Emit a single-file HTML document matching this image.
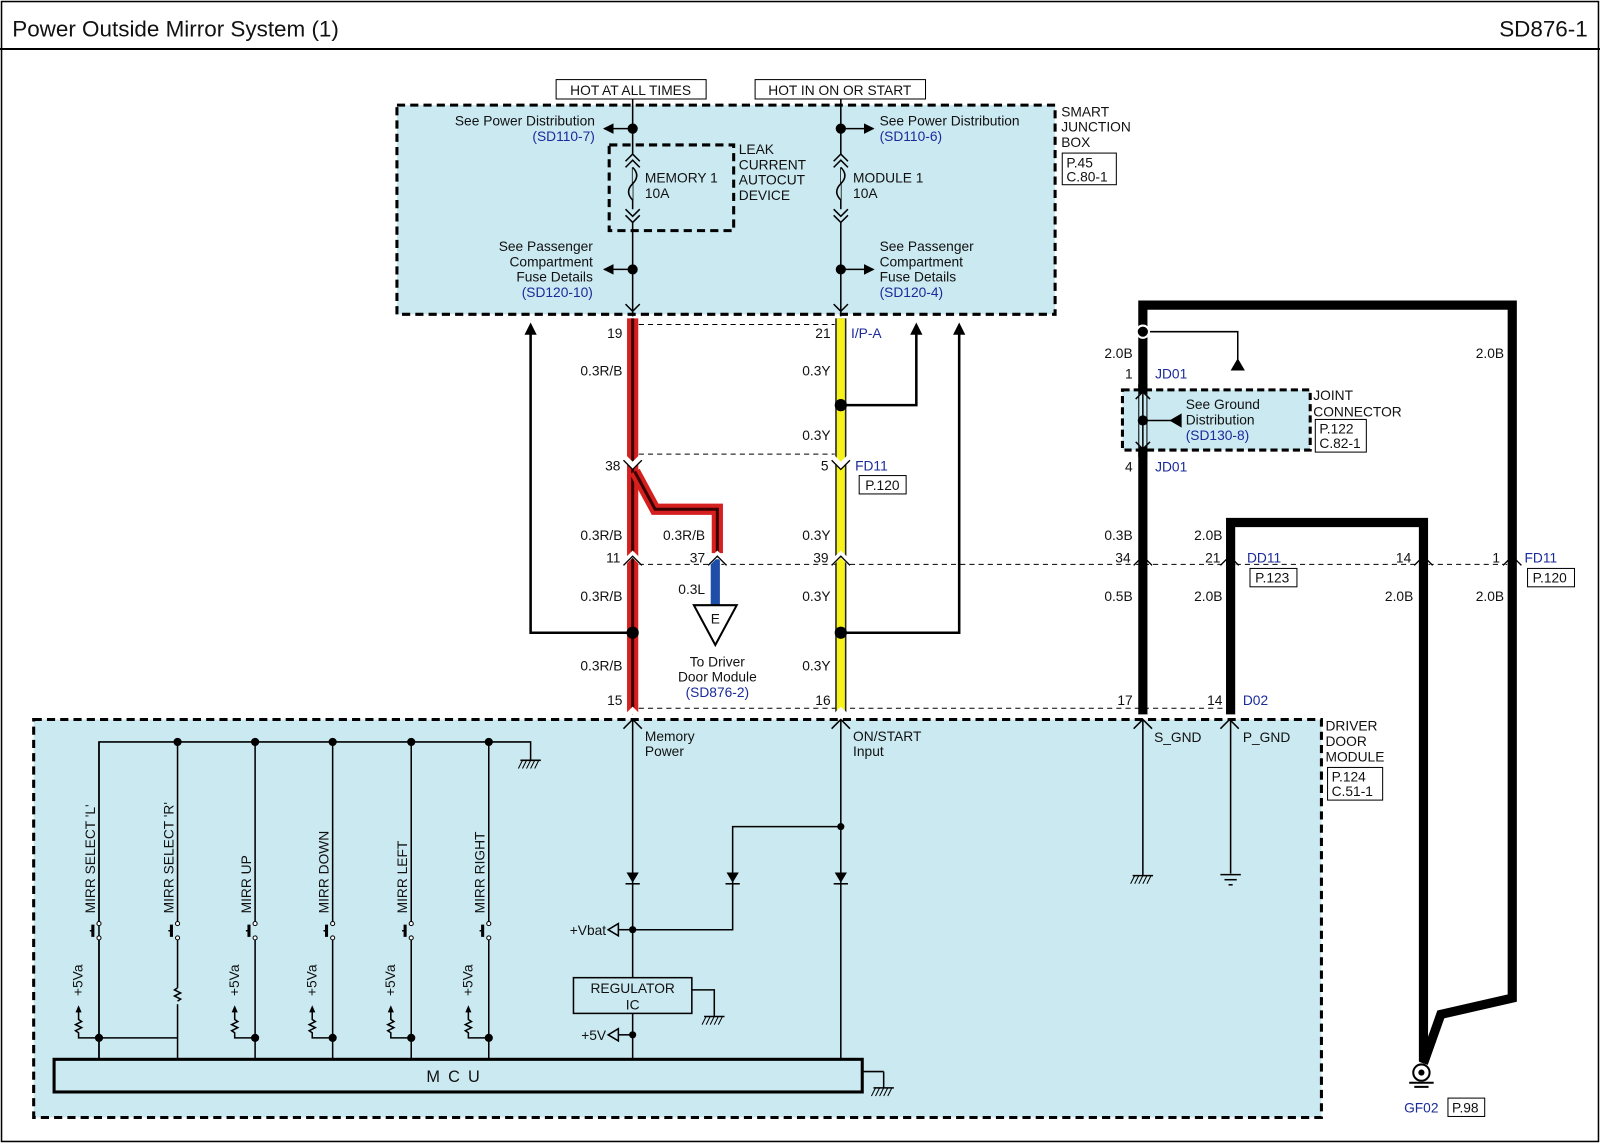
<!DOCTYPE html>
<html><head><meta charset="utf-8"><style>
html,body{margin:0;padding:0;background:#fff}
svg{display:block}
text{font-family:"Liberation Sans",sans-serif;font-size:13.5px;fill:#111}
.b{fill:#1a2a9a}
</style></head><body>
<svg width="1600" height="1143" viewBox="0 0 1568 1120" preserveAspectRatio="none" xmlns="http://www.w3.org/2000/svg">
<defs>
<marker id="ah" viewBox="0 0 10 10" refX="9" refY="5" markerWidth="7" markerHeight="7" orient="auto"><path d="M0,0L10,5L0,10z" fill="#000"/></marker>
</defs>
<rect x="0" y="0" width="1568" height="1120" fill="#fff"/>
<rect x="1.5" y="1.5" width="1565" height="1117" fill="none" stroke="#000" stroke-width="1.5"/>
<line x1="0" y1="48" x2="1568" y2="48" stroke="#000" stroke-width="2"/>
<text x="12" y="36" style="font-size:22px">Power Outside Mirror System (1)</text>
<text x="1556" y="36" text-anchor="end" style="font-size:22px">SD876-1</text>

<!-- Smart junction box -->
<rect x="389" y="103" width="645" height="205" fill="#cbe9f1" stroke="#000" stroke-width="3" stroke-dasharray="8,5"/>
<rect x="545" y="78" width="147" height="19" fill="#fff" stroke="#000"/>
<text x="618" y="93" text-anchor="middle">HOT AT ALL TIMES</text>
<rect x="740" y="78" width="167" height="19" fill="#fff" stroke="#000"/>
<text x="823" y="93" text-anchor="middle">HOT IN ON OR START</text>
<text x="1040" y="114">SMART</text><text x="1040" y="129">JUNCTION</text><text x="1040" y="144">BOX</text>
<rect x="1041" y="150" width="53" height="31" fill="#fff" stroke="#000"/>
<text x="1045" y="164">P.45</text><text x="1045" y="178">C.80-1</text>

<g stroke="#000" stroke-width="1.5" fill="none">
<line x1="620" y1="97" x2="620" y2="310"/>
<line x1="824" y1="97" x2="824" y2="310"/>
<line x1="620" y1="126" x2="592" y2="126" marker-end="url(#ah)"/>
<line x1="824" y1="126" x2="856" y2="126" marker-end="url(#ah)"/>
<line x1="620" y1="264" x2="592" y2="264" marker-end="url(#ah)"/>
<line x1="824" y1="264" x2="856" y2="264" marker-end="url(#ah)"/>
</g>
<rect x="597" y="142" width="122" height="84" fill="none" stroke="#000" stroke-width="3" stroke-dasharray="8,5"/>
<g fill="#000"><circle cx="620" cy="126" r="5"/><circle cx="824" cy="126" r="5"/><circle cx="620" cy="264" r="5"/><circle cx="824" cy="264" r="5"/></g>
<!-- fuses -->
<g stroke="#000" stroke-width="1.5" fill="#cbe9f1">
<path d="M613,158l7,-7l7,7M613,164l7,-7l7,7"/>
<path d="M620,164 q8,8 0,16 q-8,8 0,16" />
<path d="M613,205l7,7l7,-7M613,211l7,7l7,-7"/>
<path d="M817,158l7,-7l7,7M817,164l7,-7l7,7"/>
<path d="M824,164 q8,8 0,16 q-8,8 0,16" />
<path d="M817,205l7,7l7,-7M817,211l7,7l7,-7"/>
<path d="M613,298l7,7l7,-7M817,298l7,7l7,-7" fill="none"/>
</g>
<text x="632" y="179">MEMORY 1</text><text x="632" y="194">10A</text>
<text x="836" y="179">MODULE 1</text><text x="836" y="194">10A</text>
<text x="724" y="151">LEAK</text><text x="724" y="166">CURRENT</text><text x="724" y="181">AUTOCUT</text><text x="724" y="196">DEVICE</text>
<text x="583" y="123" text-anchor="end">See Power Distribution</text>
<text x="583" y="138" text-anchor="end" class="b">(SD110-7)</text>
<text x="862" y="123">See Power Distribution</text>
<text x="862" y="138" class="b">(SD110-6)</text>
<text x="581" y="246" text-anchor="end">See Passenger</text>
<text x="581" y="261" text-anchor="end">Compartment</text>
<text x="581" y="276" text-anchor="end">Fuse Details</text>
<text x="581" y="291" text-anchor="end" class="b">(SD120-10)</text>
<text x="862" y="246">See Passenger</text>
<text x="862" y="261">Compartment</text>
<text x="862" y="276">Fuse Details</text>
<text x="862" y="291" class="b">(SD120-4)</text>

<!-- dashed connector lines -->
<g stroke="#000" stroke-width="1" stroke-dasharray="5,4" fill="none">
<line x1="626" y1="318" x2="818" y2="318"/>
<line x1="626" y1="445" x2="818" y2="445"/>
<line x1="626" y1="553" x2="1490" y2="553"/>
<line x1="626" y1="694" x2="1210" y2="694"/>
</g>

<!-- arrows up -->
<g stroke="#000" stroke-width="2.5" fill="none">
<polyline points="620,620 520,620 520,324"/>
<polyline points="824,397 898,397 898,324"/>
<polyline points="824,620 940,620 940,324"/>
</g>
<g fill="#000">
<path d="M514,328l6,-12l6,12z"/><path d="M892,328l6,-12l6,12z"/><path d="M934,328l6,-12l6,12z"/>
</g>

<!-- red wire -->
<g fill="none" stroke-linejoin="miter">
<line x1="620" y1="312" x2="620" y2="700" stroke="#d61f1f" stroke-width="11"/>
<line x1="620" y1="312" x2="620" y2="700" stroke="#3a0000" stroke-width="3"/>
<polyline points="622,462 642,499 703,499 703,542" stroke="#d61f1f" stroke-width="11"/>
<polyline points="622,462 642,499 703,499 703,542" stroke="#3a0000" stroke-width="3"/>
<line x1="824" y1="312" x2="824" y2="700" stroke="#222" stroke-width="11"/>
<line x1="824" y1="312" x2="824" y2="700" stroke="#f7f21a" stroke-width="8"/>
<line x1="701" y1="548" x2="701" y2="593" stroke="#1f4ea8" stroke-width="9"/>
</g>
<!-- connector chevrons -->
<g stroke="#fff" stroke-width="5" fill="none">
<path d="M611,447l9,9l9,-9M815,447l9,9l9,-9"/>
<path d="M611,552l9,-9l9,9M694,552l9,-9l9,9M815,552l9,-9l9,9M1111,552l9,-9l9,9M1196,552l9,-9l9,9M1386,552l9,-9l9,9M1473,552l9,-9l9,9"/>
<path d="M611,705l9,-9l9,9M815,705l9,-9l9,9M1111,705l9,-9l9,9M1196,705l9,-9l9,9"/>
</g>
<g stroke="#000" stroke-width="1.3" fill="none">
<path d="M611,451l9,9l9,-9M815,451l9,9l9,-9"/>
<path d="M611,554l9,-9l9,9M694,554l9,-9l9,9M815,554l9,-9l9,9M1111,554l9,-9l9,9M1196,554l9,-9l9,9M1386,554l9,-9l9,9M1473,554l9,-9l9,9"/>
</g>
<g fill="#000"><circle cx="620" cy="620" r="6"/><circle cx="824" cy="620" r="6"/><circle cx="824" cy="397" r="6"/></g>
<path d="M680,593 L722,593 L701,632Z" fill="#fff" stroke="#000" stroke-width="2"/>
<text x="701" y="611" text-anchor="middle">E</text>
<text x="703" y="653" text-anchor="middle">To Driver</text>
<text x="703" y="668" text-anchor="middle">Door Module</text>
<text x="703" y="683" text-anchor="middle" class="b">(SD876-2)</text>

<!-- wire labels -->
<text x="610" y="331" text-anchor="end">19</text>
<text x="814" y="331" text-anchor="end">21</text><text x="834" y="331" class="b">I/P-A</text>
<text x="610" y="368" text-anchor="end">0.3R/B</text>
<text x="814" y="368" text-anchor="end">0.3Y</text>
<text x="814" y="431" text-anchor="end">0.3Y</text>
<text x="608" y="461" text-anchor="end">38</text>
<text x="812" y="461" text-anchor="end">5</text><text x="838" y="461" class="b">FD11</text>
<rect x="842" y="466" width="46" height="18" fill="#fff" stroke="#000"/><text x="848" y="480">P.120</text>
<text x="610" y="529" text-anchor="end">0.3R/B</text>
<text x="691" y="529" text-anchor="end">0.3R/B</text>
<text x="814" y="529" text-anchor="end">0.3Y</text>
<text x="608" y="551" text-anchor="end">11</text>
<text x="691" y="551" text-anchor="end">37</text>
<text x="812" y="551" text-anchor="end">39</text>
<text x="691" y="582" text-anchor="end">0.3L</text>
<text x="610" y="589" text-anchor="end">0.3R/B</text>
<text x="814" y="589" text-anchor="end">0.3Y</text>
<text x="610" y="657" text-anchor="end">0.3R/B</text>
<text x="814" y="657" text-anchor="end">0.3Y</text>
<text x="610" y="691" text-anchor="end">15</text>
<text x="814" y="691" text-anchor="end">16</text>

<!-- right side ground wires -->
<g stroke="#000" stroke-width="9" fill="none" stroke-linejoin="miter">
<polyline points="1120,700 1120,299 1482,299 1482,978 1412,994 1395,1042"/>
<polyline points="1206,700 1206,512 1395,512 1395,1040"/>
</g>
<g stroke="#000" stroke-width="1.5" fill="none">
<polyline points="1127,325 1213,325 1213,362"/>
</g>
<path d="M1206,363l7,-12l7,12z" fill="#000"/>
<circle cx="1120" cy="325" r="6" fill="#000" stroke="#fff" stroke-width="2"/>
<rect x="1100" y="382" width="184" height="59" fill="#cbe9f1" stroke="#000" stroke-width="3" stroke-dasharray="7,4"/>
<line x1="1120" y1="376" x2="1120" y2="448" stroke="#000" stroke-width="9"/>
<line x1="1120" y1="386" x2="1120" y2="438" stroke="#cbe9f1" stroke-width="7"/>
<line x1="1120" y1="386" x2="1120" y2="438" stroke="#000" stroke-width="1.5"/>
<g stroke="#000" stroke-width="1.5" fill="none">
<path d="M1113,391l7,-7l7,7M1113,433l7,7l7,-7"/>
<line x1="1120" y1="412" x2="1150" y2="412"/>
</g>
<path d="M1146,412l12,-7v14z" fill="#000"/>
<circle cx="1120" cy="412" r="5" fill="#000"/>
<text x="1162" y="401">See Ground</text><text x="1162" y="416">Distribution</text>
<text x="1162" y="431" class="b">(SD130-8)</text>
<text x="1287" y="392">JOINT</text><text x="1287" y="408">CONNECTOR</text>
<rect x="1289" y="411" width="50" height="32" fill="#fff" stroke="#000"/>
<text x="1293" y="425">P.122</text><text x="1293" y="439">C.82-1</text>
<text x="1110" y="351" text-anchor="end">2.0B</text>
<text x="1474" y="351" text-anchor="end">2.0B</text>
<text x="1110" y="371" text-anchor="end">1</text><text x="1132" y="371" class="b">JD01</text>
<text x="1110" y="462" text-anchor="end">4</text><text x="1132" y="462" class="b">JD01</text>
<text x="1110" y="529" text-anchor="end">0.3B</text>
<text x="1198" y="529" text-anchor="end">2.0B</text>
<text x="1108" y="551" text-anchor="end">34</text>
<text x="1196" y="551" text-anchor="end">21</text><text x="1222" y="551" class="b">DD11</text>
<rect x="1225" y="557" width="46" height="18" fill="#fff" stroke="#000"/><text x="1230" y="571">P.123</text>
<text x="1383" y="551" text-anchor="end">14</text>
<text x="1470" y="551" text-anchor="end">1</text><text x="1494" y="551" class="b">FD11</text>
<rect x="1497" y="557" width="46" height="18" fill="#fff" stroke="#000"/><text x="1502" y="571">P.120</text>
<text x="1110" y="589" text-anchor="end">0.5B</text>
<text x="1198" y="589" text-anchor="end">2.0B</text>
<text x="1385" y="589" text-anchor="end">2.0B</text>
<text x="1474" y="589" text-anchor="end">2.0B</text>
<text x="1110" y="691" text-anchor="end">17</text>
<text x="1198" y="691" text-anchor="end">14</text><text x="1218" y="691" class="b">D02</text>
<!-- GF02 ground -->
<g stroke="#000" stroke-width="2" fill="none">
<circle cx="1393" cy="1051" r="8" fill="#fff"/>
<line x1="1381" y1="1061" x2="1405" y2="1061"/>
<line x1="1386" y1="1065" x2="1400" y2="1065"/>
</g>
<circle cx="1393" cy="1051" r="3" fill="#000"/>
<text x="1376" y="1090" class="b">GF02</text>
<rect x="1419" y="1076" width="36" height="18" fill="#fff" stroke="#000"/><text x="1423" y="1090">P.98</text>

<!-- Driver door module -->
<rect x="33" y="705" width="1262" height="390" fill="#cbe9f1" stroke="#000" stroke-width="3" stroke-dasharray="8,5"/>
<text x="1299" y="716">DRIVER</text><text x="1299" y="731">DOOR</text><text x="1299" y="746">MODULE</text>
<rect x="1301" y="752" width="54" height="32" fill="#fff" stroke="#000"/>
<text x="1305" y="766">P.124</text><text x="1305" y="780">C.51-1</text>
<g stroke="#000" stroke-width="1.5" fill="none">
<path d="M611,714l9,-9l9,9M815,714l9,-9l9,9M1111,714l9,-9l9,9M1196,714l9,-9l9,9"/>
<line x1="620" y1="705" x2="620" y2="1038"/>
<line x1="824" y1="705" x2="824" y2="1038"/>
<line x1="1120" y1="705" x2="1120" y2="858"/>
<line x1="1206" y1="705" x2="1206" y2="856"/>
<polyline points="824,810 718,810 718,911 620,911"/>
<polyline points="678,970 700,970 700,996"/>
<line x1="1110" y1="858" x2="1130" y2="858"/>
<line x1="1196" y1="857" x2="1216" y2="857"/><line x1="1200" y1="862" x2="1212" y2="862"/><line x1="1204" y1="867" x2="1208" y2="867"/>
<!-- bus -->
<polyline points="97,1017 97,727 520,727 520,745"/>
<line x1="510" y1="745" x2="530" y2="745"/>
<line x1="690" y1="996" x2="710" y2="996"/>
<line x1="845" y1="1050" x2="866" y2="1050"/><line x1="866" y1="1050" x2="866" y2="1066"/><line x1="856" y1="1066" x2="876" y2="1066"/>
</g>
<g stroke="#000" stroke-width="1" fill="none">
<path d="M1112,858l-4,8M1116,858l-4,8M1120,858l-4,8M1124,858l-4,8M1128,858l-4,8"/>
<path d="M512,745l-4,8M516,745l-4,8M520,745l-4,8M524,745l-4,8M528,745l-4,8"/>
<path d="M692,996l-4,8M696,996l-4,8M700,996l-4,8M704,996l-4,8M708,996l-4,8"/>
<path d="M858,1066l-4,8M862,1066l-4,8M866,1066l-4,8M870,1066l-4,8M874,1066l-4,8"/>
</g>
<!-- diodes -->
<g fill="#000">
<path d="M614,855h12l-6,10z"/><path d="M712,855h12l-6,10z"/><path d="M818,855h12l-6,10z"/>
</g>
<g stroke="#000" stroke-width="1.5">
<line x1="613" y1="866" x2="627" y2="866"/><line x1="711" y1="866" x2="725" y2="866"/><line x1="817" y1="866" x2="831" y2="866"/>
</g>
<g fill="#000"><circle cx="620" cy="911" r="3.5"/><circle cx="620" cy="1014" r="3.5"/><circle cx="824" cy="810" r="3.5"/></g>
<rect x="562" y="958" width="116" height="35" fill="#cbe9f1" stroke="#000" stroke-width="1.5"/>
<text x="620" y="973" text-anchor="middle">REGULATOR</text><text x="620" y="989" text-anchor="middle">IC</text>
<g stroke="#000" stroke-width="1.5" fill="none">
<line x1="620" y1="911" x2="606" y2="911"/><path d="M606,905l-10,6l10,6z"/>
<line x1="620" y1="1014" x2="606" y2="1014"/><path d="M606,1008l-10,6l10,6z"/>
</g>
<text x="594" y="916" text-anchor="end">+Vbat</text>
<text x="594" y="1019" text-anchor="end">+5V</text>
<text x="632" y="726">Memory</text><text x="632" y="741">Power</text>
<text x="836" y="726">ON/START</text><text x="836" y="741">Input</text>
<text x="1131" y="727">S_GND</text><text x="1218" y="727">P_GND</text>

<!-- switches -->
<g stroke="#000" stroke-width="1.5" fill="none">
<line x1="174" y1="727" x2="174" y2="906"/><line x1="174" y1="918" x2="174" y2="968"/><line x1="174" y1="984" x2="174" y2="1017"/>
<path d="M174,968l-3,2l6,3l-6,3l6,3l-3,2"/>
<line x1="97" y1="1017" x2="174" y2="1017"/>
<line x1="97" y1="1017" x2="97" y2="1038"/>
</g>
<g id="sw">
</g>
<g stroke="#000" stroke-width="1.5" fill="none">
<!-- generic switch columns -->
<path d="M97,727V906M97,918V1038"/>
<path d="M250,727V906M250,918V1038"/>
<path d="M326,727V906M326,918V1038"/>
<path d="M403,727V906M403,918V1038"/>
<path d="M479,727V906M479,918V1038"/>
<path d="M174,1017V1038"/>
<!-- pushbuttons -->
<path d="M91,906v12M168,906v12M244,906v12M320,906v12M397,906v12M473,906v12" stroke-width="3"/>
<path d="M91,912h-3M168,912h-3M244,912h-3M320,912h-3M397,912h-3M473,912h-3"/>
<!-- +5Va resistors -->
<path d="M250,1017h-20v-5l-3,-2l6,-3l-6,-3l6,-3l-3,-2v-8"/>
<path d="M326,1017h-20v-5l-3,-2l6,-3l-6,-3l6,-3l-3,-2v-8"/>
<path d="M403,1017h-20v-5l-3,-2l6,-3l-6,-3l6,-3l-3,-2v-8"/>
<path d="M479,1017h-20v-5l-3,-2l6,-3l-6,-3l6,-3l-3,-2v-8"/>
<path d="M97,1017h-20v-5l-3,-2l6,-3l-6,-3l6,-3l-3,-2v-8"/>
</g>
<g fill="#000">
<path d="M74,992l3,-7l3,7z"/><path d="M227,992l3,-7l3,7z"/><path d="M303,992l3,-7l3,7z"/><path d="M380,992l3,-7l3,7z"/><path d="M456,992l3,-7l3,7z"/>
<circle cx="174" cy="727" r="4"/><circle cx="250" cy="727" r="4"/><circle cx="326" cy="727" r="4"/><circle cx="403" cy="727" r="4"/><circle cx="479" cy="727" r="4"/>
<circle cx="97" cy="1017" r="4"/><circle cx="250" cy="1017" r="4"/><circle cx="326" cy="1017" r="4"/><circle cx="403" cy="1017" r="4"/><circle cx="479" cy="1017" r="4"/>
</g>
<g fill="#fff" stroke="#000" stroke-width="1">
<circle cx="97" cy="905" r="2"/><circle cx="97" cy="919" r="2"/><circle cx="174" cy="905" r="2"/><circle cx="174" cy="919" r="2"/>
<circle cx="250" cy="905" r="2"/><circle cx="250" cy="919" r="2"/><circle cx="326" cy="905" r="2"/><circle cx="326" cy="919" r="2"/>
<circle cx="403" cy="905" r="2"/><circle cx="403" cy="919" r="2"/><circle cx="479" cy="905" r="2"/><circle cx="479" cy="919" r="2"/>
</g>
<g style="font-size:13.5px">
<text transform="translate(93,895) rotate(-90)">MIRR SELECT 'L'</text>
<text transform="translate(170,895) rotate(-90)">MIRR SELECT 'R'</text>
<text transform="translate(246,895) rotate(-90)">MIRR UP</text>
<text transform="translate(322,895) rotate(-90)">MIRR DOWN</text>
<text transform="translate(399,895) rotate(-90)">MIRR LEFT</text>
<text transform="translate(475,895) rotate(-90)">MIRR RIGHT</text>
<text transform="translate(81,976) rotate(-90)">+5Va</text>
<text transform="translate(234,976) rotate(-90)">+5Va</text>
<text transform="translate(310,976) rotate(-90)">+5Va</text>
<text transform="translate(387,976) rotate(-90)">+5Va</text>
<text transform="translate(463,976) rotate(-90)">+5Va</text>
</g>
<rect x="53" y="1038" width="792" height="32" fill="#cbe9f1" stroke="#000" stroke-width="3"/>
<text x="448" y="1060" text-anchor="middle" style="font-size:16px;letter-spacing:8px">MCU</text>
</svg>
</body></html>
